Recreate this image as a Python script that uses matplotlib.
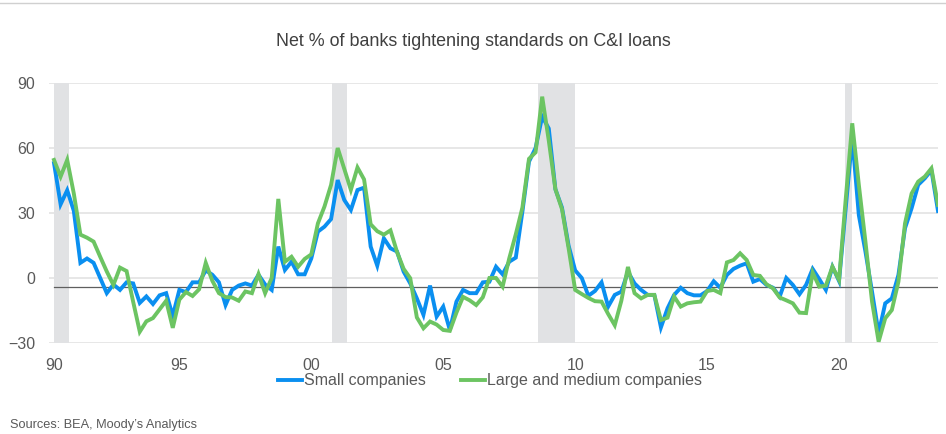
import numpy as np
import matplotlib
matplotlib.use("Agg")
import matplotlib.pyplot as plt
from matplotlib.lines import Line2D

plt.rcParams['font.family'] = ['Liberation Sans', 'DejaVu Sans']

# Quarterly data, 1990Q2 .. 2023Q4
start_year = 1990
start_quarter = 2
small = [53, 34, 40.5, 31, 7, 9, 7, 0, -7, -3, -5.5, -2, -2.5, -11.5, -8.5, -12, -8, -7, -17.5, -5.5,
         -6.5, -2, -2, 3.5, 1.5, -2, -12.5, -5.5, -3.5, -2.5, -3.5, 1.5, -3, -5.5, 14.5, 3.7, 7.5, 1.7, 1.7, 9,
         21.4, 23.7, 27.2, 45.2, 36, 31.4, 40.6, 41.7, 14.5, 5.7, 18.3, 13.7, 12.2, 2.9, -2.5, -9.4, -17, -3.5, -17.8, -13.2,
         -24, -10.9, -5.5, -7, -7, -2, -1.7, 5.2, 1.7, 7.5, 9.4, 30.6, 53.7, 60, 74.5, 69, 41, 32.5, 15, 3.5,
         0, -8.2, -6, -2, -13.2, -7.8, -6.3, 2.9, -2.5, -5.5, -7.8, -7.8, -22.8, -14, -7.8, -4.5, -7, -8, -8, -6,
         -1.5, -4.5, 1.4, 4.2, 5.7, 6.8, -1.7, -0.5, -3.2, -4.5, -8.6, 0, -3.2, -7.5, -3.2, 4.2, -0.5, -5.5, 5.2, -1.4,
         32, 65, 29, 12.2, -6.3, -25.5, -11.7, -9.4, 1.4, 23, 32.2, 43, 46, 49.8, 30.9]
large = [54.5, 46.8, 54.5, 39, 20, 18.6, 16.8, 9.8, 3, -3.2, 4.8, 3.2, -11, -24.8, -20, -18.5, -14.5, -10.5, -23, -10,
         -6.5, -8.3, -5.2, 7, -1.3, -7, -8.8, -9, -10.5, -6.2, -7, 1.8, -7, 0, 36.5, 7.5, 9.8, 5.2, 8.8, 10.9,
         25.2, 33, 43, 60, 50.3, 40.7, 51, 45.5, 24.8, 21.6, 20, 22, 12, 4.2, -0.1, -18.2, -23.2, -20.1, -21.5, -24,
         -24.4, -16, -8.7, -10.3, -12.5, -8.9, 0, 0, -4, 9, 20.2, 32.5, 55, 58, 83.7, 63.4, 41, 31.8, 13.8, -5.5,
         -7.4, -9.2, -10.7, -10.9, -16.6, -21.8, -10.5, 5.1, -7, -9.4, -7.8, -7.8, -19.4, -18.3, -8.6, -13.2, -11.7, -11.2, -10.9, -6,
         -5.5, -7, 7.2, 8.3, 11.4, 8.3, 1.4, 1, -2.9, -4.8, -9, -10.3, -11.7, -16, -16.2, 2.5, -4, -3.5, 5.2, -0.9,
         36, 71.4, 43, 16.8, -10.9, -29.4, -18.6, -14.8, -1.7, 25.2, 39, 44.5, 46.8, 50.6, 33.7]
series_names = ["Small companies", "Large and medium companies"]
recessions = [(1990.25, 1990.82), (2000.78, 2001.35), (2008.59, 2009.99), (2020.22, 2020.48)]
ref_level = -4.2
tick_years = [1990.25, 1995, 2000, 2005, 2010, 2015, 2020]
tick_labels = ["90", "95", "00", "05", "10", "15", "20"]
y_ticks = [-30, 0, 30, 60, 90]

n = len(small)
x = start_year + (start_quarter - 1) / 4 + np.arange(n) / 4.0

fig = plt.figure(figsize=(9.46, 4.34), dpi=100)
ax = fig.add_axes([49 / 946, 91 / 434, 889 / 946, 260 / 434])

for a, b in recessions:
    ax.axvspan(a, b, color="#e1e2e4", lw=0, zorder=1)

ax.set_ylim(-30, 90)
ax.set_xlim(1990.06, x[-1])
ax.set_yticks(y_ticks)
ax.set_xticks(tick_years)
ax.set_xticklabels(tick_labels)
ax.grid(axis="y", color="#e3e3e3", lw=1.2, zorder=0.5)
ax.set_axisbelow(True)
for s in ax.spines.values():
    s.set_visible(False)
ax.tick_params(axis="both", length=0, labelsize=11.5, colors="#595959")
ax.tick_params(axis="y", pad=10)
ax.tick_params(axis="x", pad=11)

ax.plot([x[0], x[-1]], [ref_level, ref_level], color="#5f5f5f", lw=0.9, zorder=2)
ax.plot(x, small, color="#0a8ff0", lw=2.8, zorder=3, solid_joinstyle="miter", label=series_names[0])
ax.plot(x, large, color="#6cc462", lw=2.8, zorder=4, solid_joinstyle="miter", label=series_names[1])

fig.text(473 / 946, 1 - 42 / 434, "Net % of banks tightening standards on C&I loans",
         ha="center", va="center", fontsize=12.9, color="#404040")
fig.legend(loc="center", bbox_to_anchor=(490 / 946, 1 - 381 / 434), ncol=2, frameon=False,
           fontsize=11.5, handlelength=1.5, handletextpad=0.1, columnspacing=2.2,
           labelcolor="#595959")
fig.text(10 / 946, 1 - 425 / 434, "Sources: BEA, Moody\u2019s Analytics", ha="left", va="center",
         fontsize=9.2, color="#595959")
fig.add_artist(Line2D([0, 1], [1 - 3 / 434, 1 - 3 / 434], transform=fig.transFigure,
                      color="#d0d0d0", lw=1))

fig.savefig("out.png", dpi=100)
